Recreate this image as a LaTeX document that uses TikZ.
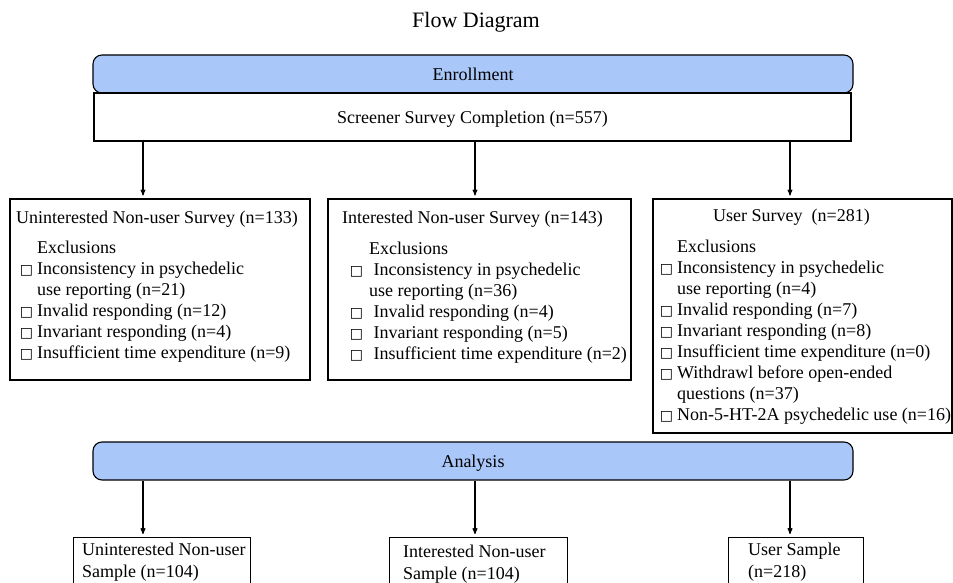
\documentclass[tikz,border=0pt]{standalone}
\usepackage{fontspec}
\setmainfont{Liberation Serif}
\newfontfamily\symfont{DejaVu Sans}
\usetikzlibrary{arrows}
\definecolor{bannerblue}{RGB}{170,199,250}
\newcommand{\ck}[1][4pt]{\llap{{\symfont\fontsize{14}{14}\selectfont □}\hspace{#1}}}
\tikzset{
	banner/.style={draw,fill=bannerblue,rounded corners=9pt,line width=1.1pt,
		minimum width=760pt,minimum height=38pt,text height=12.5pt,text depth=0pt,
		font=\fontsize{18}{21}\selectfont},
	box/.style={draw,line width=1.1pt,inner sep=0pt},
	txt/.style={inner sep=0pt,align=left,font=\fontsize{18}{21}\selectfont},
	arr/.style={->,line width=1.1pt,shorten >=3pt}
}

\begin{document}
\begin{tikzpicture}[x=1pt,y=-1pt,>=stealth']
	\useasboundingbox (0,0) rectangle (953,583);
	\node[font=\fontsize{22}{26}\selectfont,anchor=base] (title) at (476,28) {Flow Diagram};
	% enrollment
	\node[banner] (enroll) at (473,74) {Enrollment};
	\node[box,minimum width=757pt,minimum height=48pt,text height=12.5pt,text depth=0pt,
		font=\fontsize{18}{21}\selectfont] (screener) at (472.5,117) {Screener Survey Completion (n=557)};
	\coordinate (c1) at (143,0);
	\coordinate (c2) at (475,0);
	\coordinate (c3) at (790,0);
	% surveys
	\node[box,minimum width=300pt,minimum height=181pt] (unint) at (160,289.5) {};
	\node[box,minimum width=303pt,minimum height=181pt] (inter) at (479.5,289.5) {};
	\node[box,minimum width=299pt,minimum height=234pt] (user) at (802.5,316) {};
	\node[txt,anchor=base west] (uninttitle) at (16,223) {Uninterested Non-user Survey (n=133)};
	\node[txt,anchor=north west] (unintlist) at (37,241) {Exclusions\\
		\ck Inconsistency in psychedelic\\
		use reporting (n=21)\\
		\ck Invalid responding (n=12)\\
		\ck Invariant responding (n=4)\\
		\ck Insufficient time expenditure (n=9)};
	\node[txt,anchor=base west] (intertitle) at (342,223) {Interested Non-user Survey (n=143)};
	\node[txt,anchor=north west] (interlist) at (369,242) {Exclusions\\
		\ck[6pt] Inconsistency in psychedelic\\
		use reporting (n=36)\\
		\ck[6pt] Invalid responding (n=4)\\
		\ck[6pt] Invariant responding (n=5)\\
		\ck[6pt] Insufficient time expenditure (n=2)};
	\node[txt,anchor=base west] (usertitle) at (713,221) {User Survey~~(n=281)};
	\node[txt,anchor=north west] (userlist) at (677,240) {Exclusions\\
		\ck Inconsistency in psychedelic\\
		use reporting (n=4)\\
		\ck Invalid responding (n=7)\\
		\ck Invariant responding (n=8)\\
		\ck Insufficient time expenditure (n=0)\\
		\ck Withdrawl before open-ended\\
		questions (n=37)\\
		\ck Non-5-HT-2A psychedelic use (n=16)};
	\draw[arr] (screener.south -| c1) -- (unint.north -| c1);
	\draw[arr] (screener.south -| c2) -- (inter.north -| c2);
	\draw[arr] (screener.south -| c3) -- (user.north -| c3);
	% analysis
	\node[banner] (analysis) at (473,461) {Analysis};
	\node[box,minimum width=177pt,minimum height=80pt,anchor=north west] (unintsamp) at (73,537) {};
	\node[box,minimum width=178pt,minimum height=80pt,anchor=north west] (intersamp) at (389,537) {};
	\node[box,minimum width=135pt,minimum height=80pt,anchor=north west] (usersamp) at (728,537) {};
	\node[txt,anchor=north west,font=\fontsize{18}{22}\selectfont] (unintsamptext) at (82,542.5) {Uninterested Non-user\\Sample (n=104)};
	\node[txt,anchor=north west,font=\fontsize{18}{22}\selectfont] (intersamptext) at (403,544.5) {Interested Non-user\\Sample (n=104)};
	\node[txt,anchor=north west,font=\fontsize{18}{22}\selectfont] (usersamptext) at (748,542.5) {User Sample\\(n=218)};
	\draw[arr] (analysis.south -| c1) -- (unintsamp.north -| c1);
	\draw[arr] (analysis.south -| c2) -- (intersamp.north -| c2);
	\draw[arr] (analysis.south -| c3) -- (usersamp.north -| c3);
\end{tikzpicture}
\end{document}
